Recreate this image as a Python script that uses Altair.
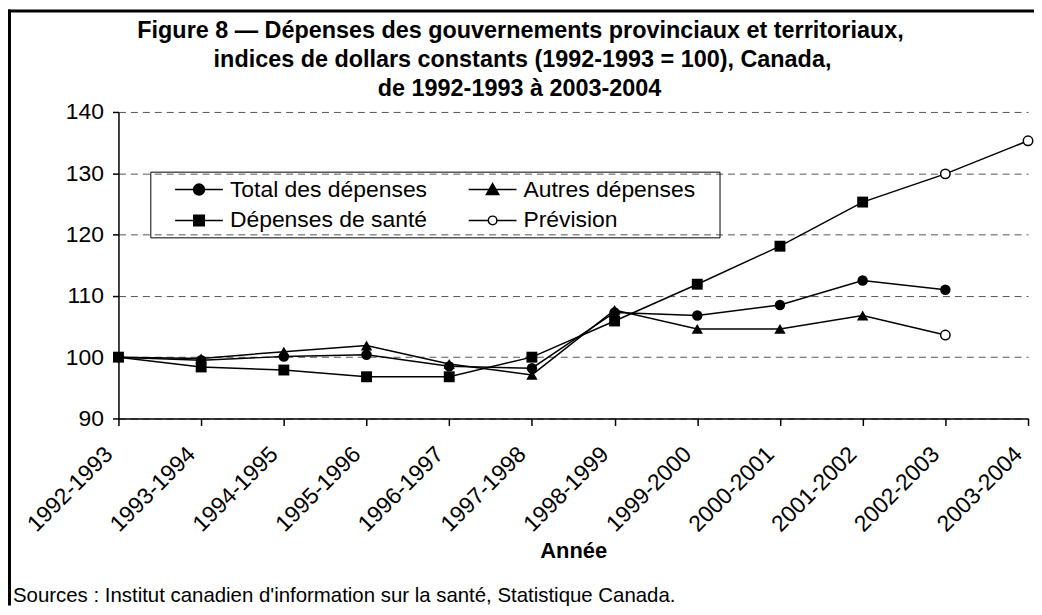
import altair as alt
import pandas as pd

years = ["1992-1993", "1993-1994", "1994-1995", "1995-1996", "1996-1997", "1997-1998",
         "1998-1999", "1999-2000", "2000-2001", "2001-2002", "2002-2003", "2003-2004"]
total = [100.0, 99.5, 100.1, 100.4, 98.5, 98.2, 107.3, 106.8, 108.5, 112.5, 111.0]
autres = [100.0, 99.8, 100.9, 101.9, 98.9, 97.1, 107.7, 104.6, 104.6, 106.8, 103.6]
sante = [100.0, 98.4, 97.9, 96.8, 96.8, 100.0, 105.9, 111.9, 118.1, 125.3, 129.9, 135.3]
# number of forecast points at the end of each series
forecast_n = {"Total des dépenses": 0, "Autres dépenses": 1, "Dépenses de santé": 2}

legend_entries = ["Total des dépenses", "Autres dépenses", "Dépenses de santé", "Prévision"]
y_ticks = [90, 100, 110, 120, 130, 140]

title_lines = ["Figure 8 — Dépenses des gouvernements provinciaux et territoriaux,",
               "indices de dollars constants (1992-1993 = 100), Canada,",
               "de 1992-1993 à 2003-2004"]
x_title = "Année"
source_note = "Sources : Institut canadien d'information sur la santé, Statistique Canada."

rows = []
for name, vals in [("Total des dépenses", total), ("Autres dépenses", autres), ("Dépenses de santé", sante)]:
    n = len(vals)
    for i, v in enumerate(vals):
        rows.append({"year": years[i], "series": name, "value": v,
                     "forecast": i >= n - forecast_n[name]})
df = pd.DataFrame(rows)

FONT = "Liberation Sans"
W, H = 914, 308
PL, PT, PR, PB = 111, 103, 6, 188

xenc = alt.X("year:O", sort=years, scale=alt.Scale(type="point", padding=0, domain=years),
             axis=alt.Axis(title=x_title, labelAngle=-45, labelAlign="right", labelBaseline="middle",
                           labelFont=FONT, labelFontSize=23, labelColor="black",
                           labelPadding=25, labelOffset=-10,
                           tickSize=7, tickColor="black", tickWidth=1.5,
                           domainColor="black", domainWidth=1.5, grid=False,
                           titleFont=FONT, titleFontSize=22, titleFontWeight="bold",
                           titleColor="black", titleY=140, titleBaseline="alphabetic"))
yenc = alt.Y("value:Q", scale=alt.Scale(domain=[90, 140], nice=False, zero=False),
             axis=alt.Axis(title=None, values=y_ticks, labelFont=FONT, labelFontSize=23,
                           labelColor="black", labelPadding=9,
                           tickSize=6, tickColor="black", tickWidth=1.5,
                           domainColor="black", domainWidth=1.5,
                           grid=True, gridDash=[7, 5], gridColor="#555", gridWidth=1))

base = alt.Chart(df)
lines = base.mark_line(color="black", strokeWidth=1.5).encode(x=xenc, y=yenc, detail="series:N")

actual = base.transform_filter("!datum.forecast")
pts_total = actual.transform_filter("datum.series == 'Total des dépenses'").mark_point(
    shape="circle", filled=True, color="black", size=110, opacity=1).encode(x=xenc, y=yenc)
pts_autres = actual.transform_filter("datum.series == 'Autres dépenses'").mark_point(
    shape="triangle-up", filled=True, color="black", size=130, opacity=1).encode(x=xenc, y=yenc)
pts_sante = actual.transform_filter("datum.series == 'Dépenses de santé'").mark_point(
    shape="square", filled=True, color="black", size=120, opacity=1).encode(x=xenc, y=yenc)
pts_fc = base.transform_filter("datum.forecast").mark_point(
    shape="circle", filled=True, fill="white", stroke="black", strokeWidth=1.5, size=90,
    opacity=1).encode(x=xenc, y=yenc)

# legend symbols: line with marker (unit = sqrt(size)/2 = 12 px)
sym_paths = [
    "M0.58,0H4.58M3.04,0A0.46,0.46,0,1,1,2.12,0A0.46,0.46,0,1,1,3.04,0Z",
    "M0.58,0H4.58M2.58,-0.5L3.1,0.42L2.06,0.42Z",
    "M0.58,0H4.58M2.14,-0.44H3.02V0.44H2.14Z",
    "M0.58,0H2.22M2.94,0H4.58M2.94,0A0.36,0.36,0,1,1,2.22,0A0.36,0.36,0,1,1,2.94,0Z",
]
# an invisible title on the right side of the legend widens its box like the reference
leg = alt.Legend(title="M", titleOrient="right", titleOpacity=0, titleFontSize=5,
                 titleFont=FONT, titlePadding=14,
                 orient="none", legendX=32, legendY=60, columns=2,
                 direction="horizontal",
                 strokeColor="black", padding=5, labelFont=FONT, labelFontSize=23,
                 labelColor="black", labelOffset=49, rowPadding=6, columnPadding=21,
                 symbolStrokeWidth=1.5, symbolSize=576, labelLimit=400)
leg_df = pd.DataFrame({"entry": legend_entries})
legend_layer = alt.Chart(leg_df).mark_point(filled=True, strokeWidth=1.5,
                                            size=576, opacity=1).encode(
    x=alt.value(-3000), y=alt.value(-3000),
    shape=alt.Shape("entry:N", sort=legend_entries,
                    scale=alt.Scale(domain=legend_entries, range=sym_paths), legend=leg),
    fill=alt.Fill("entry:N", sort=legend_entries,
                  scale=alt.Scale(domain=legend_entries, range=["black", "black", "black", "white"]),
                  legend=leg),
    stroke=alt.Stroke("entry:N", sort=legend_entries,
                      scale=alt.Scale(domain=legend_entries, range=["black", "black", "black", "black"]),
                      legend=leg),
)

title_font = dict(font=FONT, fontSize=23.5, fontWeight="bold", color="black",
                  align="center", baseline="alphabetic")
t1 = alt.Chart(pd.DataFrame({"t": [title_lines[0]]})).mark_text(**title_font).encode(
    text="t:N", x=alt.value(404), y=alt.value(37 - 111))
t2 = alt.Chart(pd.DataFrame({"t": [title_lines[1]]})).mark_text(**title_font).encode(
    text="t:N", x=alt.value(406), y=alt.value(66 - 111))
t3 = alt.Chart(pd.DataFrame({"t": [title_lines[2]]})).mark_text(**title_font).encode(
    text="t:N", x=alt.value(403), y=alt.value(95 - 111))

note = alt.Chart(pd.DataFrame({"t": [source_note]})).mark_text(
    align="left", baseline="alphabetic", font=FONT, fontSize=20.5, color="black").encode(
    text="t:N", x=alt.value(13 - 119), y=alt.value(603 - 111))

frame_df = pd.DataFrame({"k": [0]})
frame_top = alt.Chart(frame_df).mark_rule(color="black", strokeWidth=3).encode(
    x=alt.value(-PL), x2=alt.value(W + PR), y=alt.value(-PT + 1.5))
frame_left = alt.Chart(frame_df).mark_rule(color="black", strokeWidth=3).encode(
    x=alt.value(-PL + 1.5), y=alt.value(-PT), y2=alt.value(H + PB))

chart = alt.layer(lines, pts_total, pts_autres, pts_sante, pts_fc, legend_layer,
                  t1, t2, t3, note, frame_top, frame_left).properties(
    width=W, height=H,
    autosize=alt.AutoSizeParams(type="none"),
    padding={"left": PL, "top": PT, "right": PR, "bottom": PB},
    background="white",
).configure_view(strokeWidth=0)

chart.save("out.html", embed_options={"renderer": "svg", "actions": False})
